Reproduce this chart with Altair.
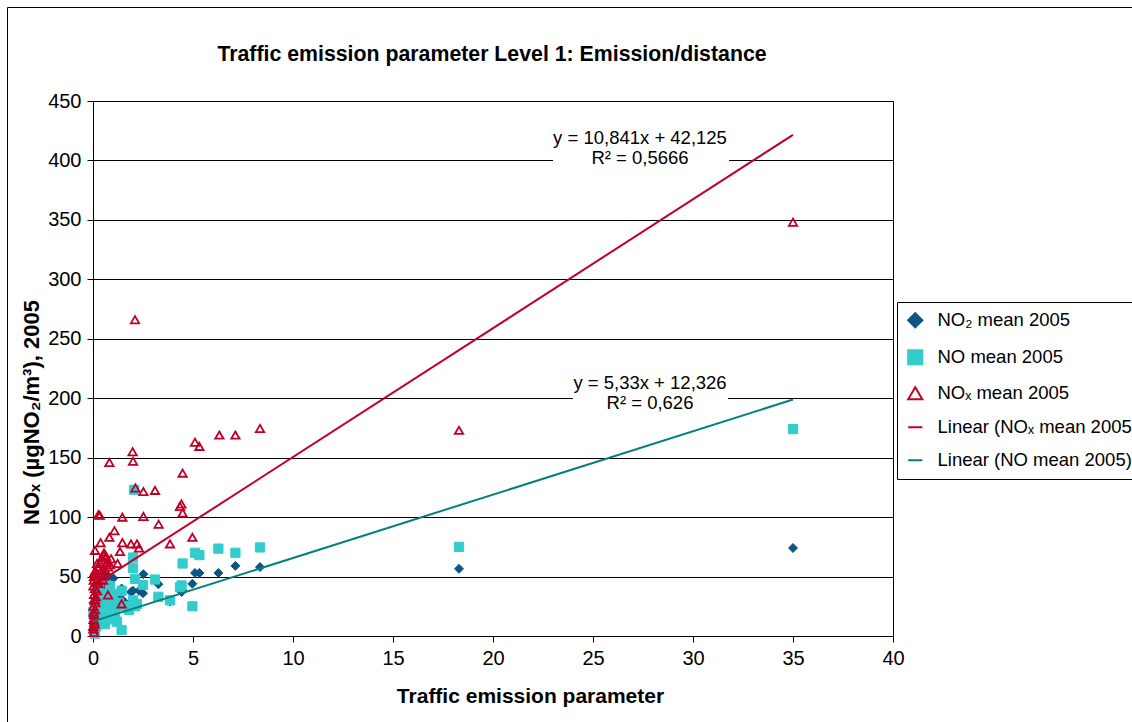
import altair as alt
import pandas as pd

FONT = "Liberation Sans"

# Station values: traffic emission parameter (x) and 2005 annual mean (y)
no2_x = [35.0, 18.3, 8.35, 7.12, 6.27, 5.1, 5.32, 4.97, 4.48, 4.43,
         3.85, 3.27, 2.52, 2.0, 2.3, 2.5, 1.9, 1.43, 1.02, 0.6,
         0.75, 0.7, 0.82, 1.85, 0.1, 0.3, 0.5, 0.2, 0.4, 0.9,
         1.2, 0.05, 0.15, 1.5, 0.02, 0.25, 0.35, 0.55, 0.08, 0.12,
         0.65, 1.1]
no2_y = [74, 56.5, 58, 59, 53, 53, 53, 44, 38.5, 37,
         29, 43.5, 52, 38, 38, 36, 37, 40, 48.5, 50,
         49.5, 30, 38, 27.5, 20, 25, 22, 30, 35, 28,
         33, 10, 15, 30, 28, 18, 32, 42, 6, 24,
         26, 22]

no_x = [35.0, 18.3, 8.35, 7.12, 6.27, 5.1, 5.32, 4.48, 2.05, 2.0,
        2.0, 2.1, 2.5, 3.1, 4.43, 4.35, 3.85, 3.27, 4.97, 1.43,
        1.43, 2.0, 2.2, 2.1, 1.0, 0.3, 0.5, 0.7, 0.9, 1.1,
        0.4, 0.6, 0.2, 0.8, 0.3, 1.2, 0.05, 0.1, 0.15, 0.5,
        0.9, 1.3, 1.6, 1.8, 0.02, 0.1, 0.3, 0.7, 1.0, 0.45,
        0.25, 0.05, 0.6, 0.85]
no_y = [174, 75, 74.5, 70, 73.5, 70, 68, 61, 123, 66,
        57, 48, 43, 47.5, 42.5, 41, 30, 33, 25, 5,
        38, 30, 27, 25, 35, 30, 28, 25, 22, 20,
        20, 18, 15, 14, 10, 12, 5, 2, 8, 12,
        30, 28, 25, 22, 20, 25, 40, 32, 18, 35,
        22, 14, 10, 42]

nox_x = [35.0, 18.3, 8.35, 7.12, 6.32, 5.1, 5.32, 2.1, 1.98, 2.0,
         0.82, 4.48, 2.12, 2.52, 3.1, 4.35, 4.42, 4.48, 0.27, 0.34,
         1.47, 2.52, 3.28, 1.07, 0.82, 0.38, 4.97, 1.47, 1.9, 2.2,
         2.3, 3.85, 0.1, 1.35, 0.55, 0.65, 0.5, 0.7, 1.23, 0.2,
         1.43, 0.75,
         0.3, 0.4, 0.45, 0.6, 0.35, 0.25, 0.15, 0.05, 0.1, 0.05,
         0.08, 0.02, 0.1, 0.05, 0.03, 0.08, 0.02, 0.05, 0.12, 0.15,
         0.2, 0.18, 0.12, 0.5, 0.6, 0.75, 0.85, 0.9, 0.35, 0.45,
         0.02, 0.04, 0.06, 0.03, 0.07, 0.01, 0.09, 0.55, 0.65, 0.28]
nox_y = [348, 173, 174.5, 169, 169, 163, 159.5, 266, 155, 147,
         146, 137, 124.5, 121.5, 122.5, 109, 111, 103.5, 102, 101.5,
         100, 100.5, 94, 88.5, 83, 78.5, 83, 78.5, 77.5, 77.5,
         74, 77.5, 72, 71, 68, 67, 64, 62, 61, 61,
         27, 34.5,
         58, 55, 52, 56, 50, 48, 45, 50, 40, 35,
         30, 25, 22, 18, 14, 10, 6, 3, 28, 33,
         38, 52, 55, 47, 52, 58, 60, 65, 62, 66,
         42, 47, 53, 20, 12, 8, 31, 70, 60, 44]

# Linear trend lines as stated by their equations
trend_names = ["Linear (NOₓ mean 2005)", "Linear (NO mean 2005)"]
trend_slope = [10.841, 5.33]
trend_intercept = [42.125, 12.326]
trend_x_range = [0.0, 35.0]
trend_eq = ["y = 10,841x + 42,125", "y = 5,33x + 12,326"]
trend_r2 = ["R² = 0,5666", "R² = 0,626"]
# label anchors (data units): centre x, first line y, second line y
label_cx = [27.35, 27.85]
label_y1 = [418.5, 212.6]
label_y2 = [401.7, 195.8]
# white label boxes (data units)
box_x0 = [23.0, 24.0]
box_x1 = [31.8, 31.75]
box_y0 = [393, 188]
box_y1 = [427, 222]

SERIES = ["NO₂ mean 2005", "NO mean 2005", "NOₓ mean 2005",
          "Linear (NOₓ mean 2005)", "Linear (NO mean 2005)"]
NAVY = "#0B5580"
CYAN = "#33CCCC"
RED = "#C00026"
TEAL = "#008080"

shape_scale = alt.Scale(domain=SERIES,
                        range=["diamond", "square", "triangle-up", "stroke", "stroke"])
stroke_scale = alt.Scale(domain=SERIES, range=[NAVY, CYAN, RED, RED, TEAL])
fill_scale = alt.Scale(domain=SERIES,
                       range=[NAVY, CYAN, "transparent", "transparent", "transparent"])

X_TITLE = "Traffic emission parameter"
Y_TITLE = "NOₓ (µgNO₂/m³), 2005"
x_scale = alt.Scale(domain=[0, 40], nice=False, zero=True)
y_scale = alt.Scale(domain=[0, 450], nice=False, zero=True)
x_axis = alt.Axis(values=list(range(0, 41, 5)), grid=False, title=X_TITLE,
                  titleX=437, titleY=60, titleBaseline="middle",
                  labelPadding=6, labelFlush=False)
y_axis = alt.Axis(values=list(range(0, 451, 50)), grid=True, title=Y_TITLE,
                  titleX=-62, titleY=311, titleBaseline="middle", titleFontSize=22,
                  labelPadding=6, labelFlush=False)


def xe(field="x"):
    return alt.X(f"{field}:Q", scale=x_scale, axis=x_axis, title=X_TITLE)


def ye(field="y"):
    return alt.Y(f"{field}:Q", scale=y_scale, axis=y_axis, title=Y_TITLE)


def series_frame(xs, ys, name):
    return pd.DataFrame({"x": xs, "y": ys, "series": name})


def point_layer(df, size, stroke_width):
    return alt.Chart(df).mark_point(size=size, strokeWidth=stroke_width, opacity=1).encode(
        x=xe(), y=ye(),
        shape=alt.Shape("series:N", scale=shape_scale, legend=alt.Legend(title=None)),
        fill=alt.Fill("series:N", scale=fill_scale, legend=alt.Legend(title=None)),
        stroke=alt.Stroke("series:N", scale=stroke_scale, legend=alt.Legend(title=None)),
    )


no2_layer = point_layer(series_frame(no2_x, no2_y, SERIES[0]), 80, 1)
no_layer = point_layer(series_frame(no_x, no_y, SERIES[1]), 85, 1)
nox_layer = point_layer(series_frame(nox_x, nox_y, SERIES[2]), 70, 1.8)

trend_rows = []
for name, m, b in zip(trend_names, trend_slope, trend_intercept):
    for xv in trend_x_range:
        trend_rows.append({"x": xv, "y": m * xv + b, "series": name})
trend_layer = alt.Chart(pd.DataFrame(trend_rows)).mark_line(strokeWidth=2).encode(
    x=xe(), y=ye(),
    stroke=alt.Stroke("series:N", scale=stroke_scale, legend=alt.Legend(title=None)),
)

boxes = pd.DataFrame({"x": box_x0, "x_end": box_x1, "y": box_y0, "y_end": box_y1})
box_layer = alt.Chart(boxes).mark_rect(color="white").encode(
    x=xe(), x2=alt.X2("x_end:Q", title=X_TITLE),
    y=ye(), y2=alt.Y2("y_end:Q", title=Y_TITLE),
)

eq_rows = []
for cx, y1, y2, eq, r2 in zip(label_cx, label_y1, label_y2, trend_eq, trend_r2):
    eq_rows.append({"x": cx, "y": y1, "label": eq})
    eq_rows.append({"x": cx, "y": y2, "label": r2})
eq_layer = alt.Chart(pd.DataFrame(eq_rows)).mark_text(
    font=FONT, fontSize=18.5, color="black", align="center", baseline="middle"
).encode(x=xe(), y=ye(), text="label:N")

one_row = alt.Data(values=[{}])
frame_layer = alt.Chart(one_row).mark_rect(fillOpacity=0, stroke="black", strokeWidth=1).encode(
    x=alt.value(-85.5), x2=alt.value(1060), y=alt.value(-93.5), y2=alt.value(640)
)
title_layer = alt.Chart(one_row).mark_text(
    text="Traffic emission parameter Level 1: Emission/distance",
    font=FONT, fontSize=21.3, fontWeight="bold", color="black",
    align="center", baseline="middle",
).encode(x=alt.value(399), y=alt.value(-46))

chart = alt.layer(
    frame_layer, box_layer, no2_layer, no_layer, nox_layer, trend_layer, eq_layer, title_layer
).properties(
    width=800, height=535,
    padding={"left": 93, "top": 101, "right": 239, "bottom": 86},
    autosize=alt.AutoSizeParams(type="none"),
).configure_view(
    stroke="black", strokeWidth=1
).configure_axis(
    labelFont=FONT, labelFontSize=20, labelColor="black",
    titleFont=FONT, titleFontSize=21, titleFontWeight="bold", titleColor="black",
    domainColor="black", tickColor="black", tickSize=6,
    gridColor="black", gridOpacity=1, gridWidth=1,
).configure_legend(
    orient="none", legendX=804, legendY=201,
    strokeColor="black", fillColor="white", padding=9,
    labelFont=FONT, labelFontSize=18.5, labelColor="black", labelLimit=400,
    labelOffset=13, symbolSize=200, symbolStrokeWidth=2, rowPadding=14,
)

chart.save("out.html", embed_options={"renderer": "svg", "actions": False})
